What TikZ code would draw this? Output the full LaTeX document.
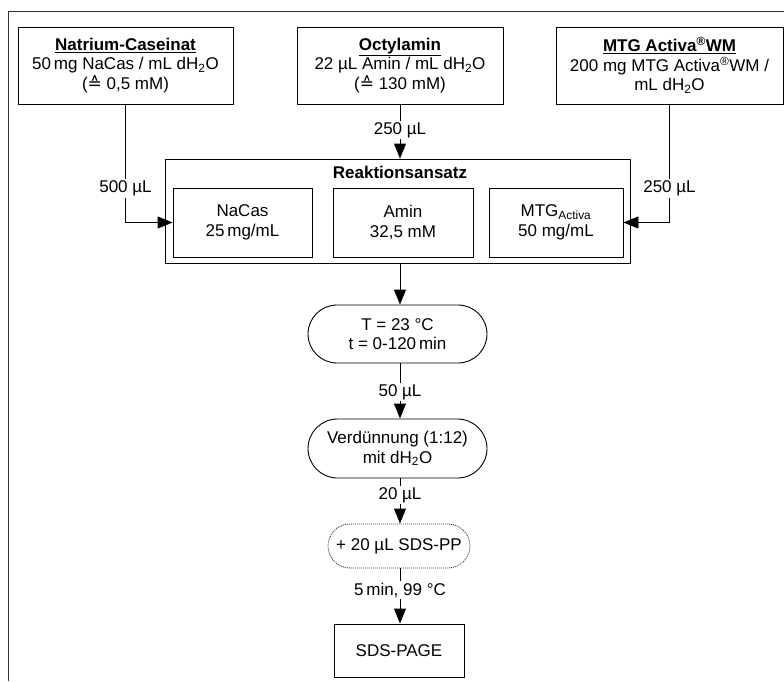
\documentclass[tikz,border=0pt]{standalone}
\usepackage{fontspec}
\setmainfont{Liberation Sans}
\newfontfamily\symfnt{DejaVu Sans}
\usetikzlibrary{arrows.meta}
\begin{document}
\begin{tikzpicture}[x=1pt,y=-1pt,
  every node/.style={font=\fontsize{17}{19.5}\selectfont},
  box/.style={draw, line width=0.9pt, align=center, inner sep=0pt},
  pill/.style={box, rounded corners=#1},
  lbl/.style={fill=white, inner sep=1.5pt},
  arr/.style={line width=0.9pt, -{Triangle[length=15pt,width=12pt]}},
  conn/.style={line width=0.9pt}]
\useasboundingbox (0,0) rectangle (784,681);
% outer frame
\draw[line width=1.3pt, black!80] (8.5,681) -- (8.5,11.5) -- (784,11.5);

% source boxes
\node[box, minimum width=215pt, minimum height=77pt] (nacasSrc) at (125.5,65.5)
  {\underline{\textbf{Natrium-Caseinat}}\\50\,mg NaCas / mL dH\textsubscript{2}O\\({\symfnt ≙} 0,5 mM)};
\node[box, minimum width=206pt, minimum height=77pt] (aminSrc) at (400,65.5)
  {\underline{\textbf{Octylamin}}\\22 µL Amin / mL dH\textsubscript{2}O\\({\symfnt ≙} 130 mM)};
\node[box, minimum width=227pt, minimum height=77pt] (mtgSrc) at (669.5,65.5)
  {\underline{\textbf{MTG Activa\textsuperscript{®}WM}}\\200 mg MTG Activa\textsuperscript{®}WM /\\mL dH\textsubscript{2}O};

% reaction mixture
\node[box, minimum width=465pt, minimum height=104pt] (reak) at (397.5,211) {};
\node[font=\fontsize{17}{19.5}\selectfont\bfseries] (reakTitle) at (400,172.5) {Reaktionsansatz};
\node[box, minimum width=139pt, minimum height=69pt] (nacas) at (242.5,222.5)
  {NaCas\\25\,mg/mL};
\node[box, minimum width=140pt, minimum height=69pt] (amin) at (403,222.5)
  {Amin\\32,5 mM};
\node[box, minimum width=134pt, minimum height=69pt] (mtg) at (556,222.5)
  {MTG\textsubscript{Activa}\\50 mg/mL};

% process steps
\node[pill=29pt, minimum width=179pt, minimum height=58pt] (inc) at (397.5,334)
  {T = 23 °C\\t = 0-120\,min};
\node[pill=29.5pt, minimum width=179pt, minimum height=59pt] (verd) at (397.5,448.5)
  {Verdünnung (1:12)\\mit dH\textsubscript{2}O};
\node[pill=22pt, minimum width=142pt, minimum height=44pt, dash pattern=on 1pt off 1pt, draw=black!75] (sdspp) at (399,546)
  {+ 20 µL SDS-PP};
\node[box, minimum width=130pt, minimum height=53pt] (page) at (399,650.5)
  {SDS-PAGE};

% connectors
\draw[arr] (aminSrc.south) -- node[lbl, pos=0.47] {250 µL} (aminSrc.south |- reak.north);
\draw[arr] (nacasSrc.south) |- node[lbl, pos=0.356] {500 µL} (nacas.west);
\draw[arr] (mtgSrc.south) |- node[lbl, pos=0.356] {250 µL} (mtg.east);
\draw[arr] (aminSrc.south |- reak.south) -- (aminSrc.south |- inc.north);
\draw[arr] (aminSrc.south |- inc.south) -- node[lbl, pos=0.52] {50 µL} (aminSrc.south |- verd.north);
\draw[arr] (aminSrc.south |- verd.south) -- node[lbl, pos=0.37] {20 µL} (aminSrc.south |- sdspp.north);
\draw[arr] (aminSrc.south |- sdspp.south) -- node[lbl, pos=0.39] {5\,min, 99 °C} (aminSrc.south |- page.north);
\end{tikzpicture}
\end{document}
